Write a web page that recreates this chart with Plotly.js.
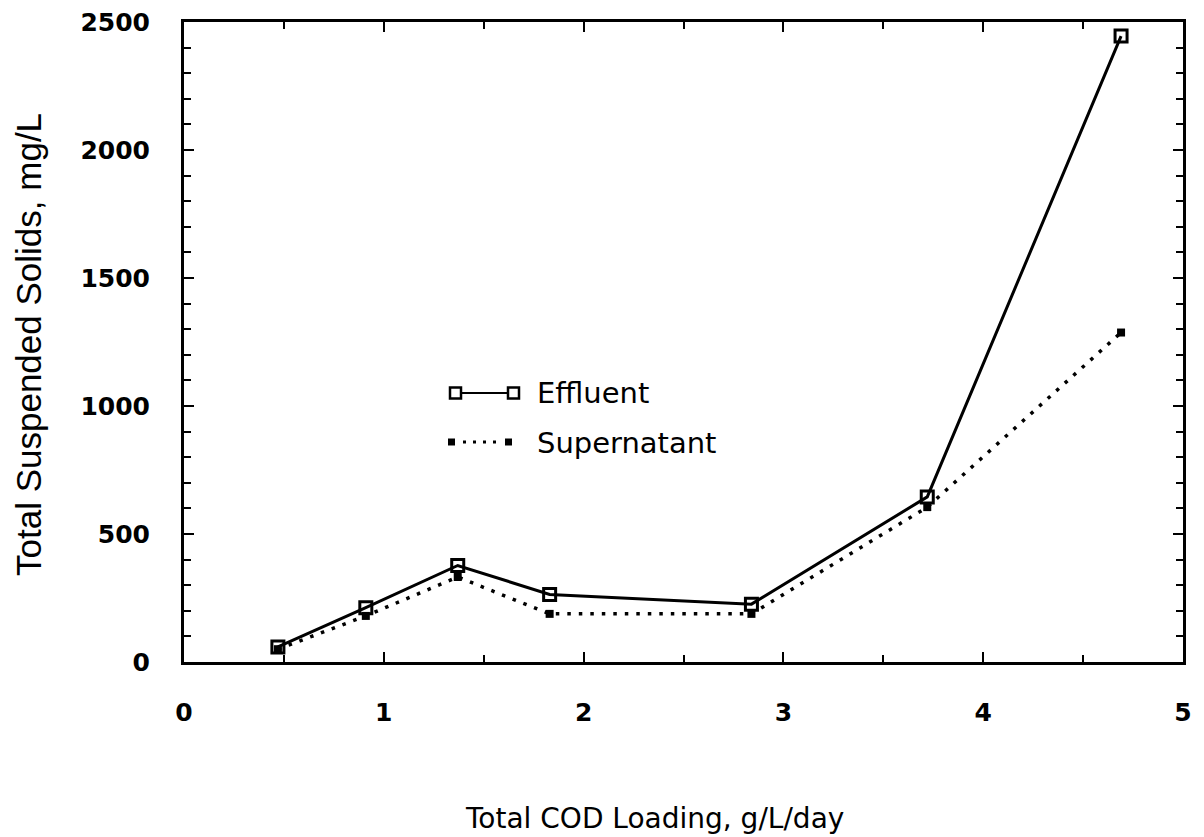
<!DOCTYPE html>
<html>
<head>
<meta charset="utf-8">
<script src="https://cdn.plot.ly/plotly-3.0.1.min.js"></script>
<style>html,body{margin:0;padding:0;background:#fff;}#chart{width:1204px;height:837px;}</style>
</head>
<body>
<div id="chart"></div>
<script>
const codLoading = [0.47, 0.91, 1.37, 1.83, 2.84, 3.72, 4.69];
const effluentTSS = [59, 212, 377, 264, 226, 645, 2445];
const supernatantTSS = [50, 180, 332, 188, 188, 605, 1287];
const seriesNames = ["Effluent", "Supernatant"];
const xTitle = "Total COD Loading, g/L/day";
const yTitle = "Total Suspended Solids, mg/L";

const FONT = "DejaVu Sans, sans-serif";
const HELV = "Liberation Sans, Arial, sans-serif";

const traces = [
  {
    x: codLoading, y: effluentTSS, name: seriesNames[0], type: "scatter", mode: "lines+markers",
    line: {color: "#000", width: 3},
    marker: {symbol: "square-open", size: 12, color: "#000", line: {width: 3, color: "#000"}},
    cliponaxis: false
  },
  {
    x: codLoading, y: supernatantTSS, name: seriesNames[1], type: "scatter", mode: "lines+markers",
    line: {color: "#000", width: 3.5, dash: "3.5px,8px"},
    marker: {symbol: "square", size: 8, color: "#000"},
    cliponaxis: false
  }
];

// custom legend (paper coords) mimicking the original
const L = 184, R = 1183, T = 22, B = 662;
const px = v => (v - L) / (R - L);
const py = v => (B - v) / (B - T);

const shapes = [
  {type: "line", xref: "paper", yref: "paper", x0: px(456), x1: px(513), y0: py(393), y1: py(393), line: {color: "#000", width: 2}},
  {type: "rect", xref: "paper", yref: "paper", x0: px(450), x1: px(461), y0: py(387.5), y1: py(398.5), fillcolor: "#fff", line: {color: "#000", width: 2.5}},
  {type: "rect", xref: "paper", yref: "paper", x0: px(508), x1: px(519), y0: py(387.5), y1: py(398.5), fillcolor: "#fff", line: {color: "#000", width: 2.5}},
  {type: "line", xref: "paper", yref: "paper", x0: px(463), x1: px(502), y0: py(442), y1: py(442), line: {color: "#000", width: 3, dash: "3px,7px"}},
  {type: "rect", xref: "paper", yref: "paper", x0: px(448), x1: px(455), y0: py(438.5), y1: py(445.5), fillcolor: "#000", line: {color: "#000", width: 0}},
  {type: "rect", xref: "paper", yref: "paper", x0: px(505), x1: px(512), y0: py(438.5), y1: py(445.5), fillcolor: "#000", line: {color: "#000", width: 0}}
];

const annotations = [
  {xref: "paper", yref: "paper", x: px(535), y: py(393), xanchor: "left", yanchor: "middle", showarrow: false,
   text: seriesNames[0], font: {family: FONT, size: 29, color: "#000"}},
  {xref: "paper", yref: "paper", x: px(535), y: py(443), xanchor: "left", yanchor: "middle", showarrow: false,
   text: seriesNames[1], font: {family: FONT, size: 29, color: "#000"}},
  {xref: "paper", yref: "paper", x: px(463), y: py(818), xanchor: "left", yanchor: "middle", showarrow: false,
   text: xTitle, font: {family: FONT, size: 28, color: "#000"}},
  {xref: "paper", yref: "paper", x: px(28), y: py(345), xanchor: "center", yanchor: "middle", showarrow: false,
   textangle: -90, text: yTitle, font: {family: HELV, size: 35, color: "#000"}}
];

const layout = {
  width: 1204, height: 837,
  margin: {l: L, r: 1204 - R, t: T, b: 837 - B, pad: 0},
  paper_bgcolor: "#fff", plot_bgcolor: "#fff",
  showlegend: false,
  font: {family: FONT, size: 22, color: "#000"},
  xaxis: {
    range: [0, 5], dtick: 1, tick0: 0, ticks: "inside", ticklen: 10, tickwidth: 2, tickcolor: "#000",
    minor: {dtick: 0.5, ticks: "inside", ticklen: 7, tickwidth: 2, tickcolor: "#000"},
    showline: true, linewidth: 3, linecolor: "#000", mirror: "ticks",
    showgrid: false, zeroline: false, ticklabelstandoff: 26,
    tickfont: {family: FONT, size: 25, color: "#000", weight: "bold"}
  },
  yaxis: {
    range: [0, 2500], dtick: 500, tick0: 0, ticks: "inside", ticklen: 10, tickwidth: 2, tickcolor: "#000",
    minor: {dtick: 100, ticks: "inside", ticklen: 7, tickwidth: 2, tickcolor: "#000"},
    showline: true, linewidth: 3, linecolor: "#000", mirror: "ticks",
    showgrid: false, zeroline: false, ticklabelstandoff: 26,
    tickfont: {family: FONT, size: 25, color: "#000", weight: "bold"}
  },
  shapes: shapes,
  annotations: annotations
};

Plotly.newPlot("chart", traces, layout, {staticPlot: true, displayModeBar: false});
</script>
</body>
</html>
